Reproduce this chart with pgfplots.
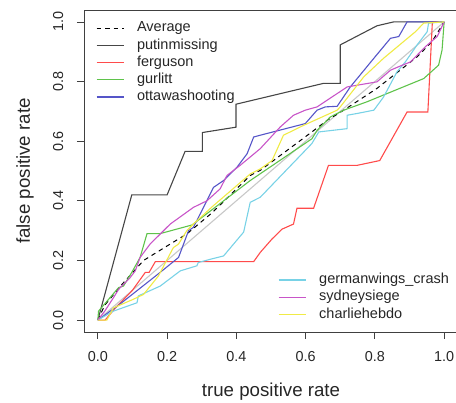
\documentclass[border=0pt]{standalone}
\usepackage{fontspec}
\setmainfont{Liberation Sans}
\usepackage{pgfplots}
\pgfplotsset{compat=1.18}

\definecolor{cputin}{RGB}{70,70,70}
\definecolor{cfergu}{RGB}{255,75,75}
\definecolor{cgurl}{RGB}{95,195,75}
\definecolor{cottawa}{RGB}{85,85,200}
\definecolor{cgerm}{RGB}{120,210,230}
\definecolor{csyd}{RGB}{200,85,200}
\definecolor{ccharlie}{RGB}{240,235,70}
\definecolor{cdiag}{RGB}{200,200,200}

\pgfplotsset{
  rocframe/.style={
    at={(0,0)}, anchor=south west,
    width=374pt, height=322pt, scale only axis,
    xmin=-0.04, xmax=1.04, ymin=-0.04, ymax=1.04,
    legend cell align=left,
  },
  leg/.style={
    draw=none, fill=none, inner sep=0pt, outer sep=0pt,
    row sep=3.75pt, column sep=13pt,
    nodes={inner sep=0pt, text height=10.5pt, text depth=3pt,
      font=\fontsize{14.5}{17}\selectfont, text=black!85},
  },
}

\begin{document}
\begin{tikzpicture}
\useasboundingbox (-84pt,-71pt) rectangle (372pt,332pt);

\begin{axis}[
  rocframe,
  axis line style={black!75, line width=0.9pt},
  xtick={0,0.2,0.4,0.6,0.8,1}, ytick={0,0.2,0.4,0.6,0.8,1},
  xtick pos=bottom, ytick pos=left,
  tick align=outside, major tick length=7pt,
  tick style={black!75, line width=0.8pt},
  /pgf/number format/.cd, fixed, fixed zerofill, precision=1, assume math mode=true,
  /pgfplots/.cd,
  ticklabel style={font=\fontsize{14.4}{17}\selectfont, text=black!85},
  xticklabel style={anchor=north, inner sep=0pt},
  xticklabel shift=12.5pt,
  yticklabel style={rotate=90, anchor=south, inner sep=0pt},
  yticklabel shift=13.5pt,
  xlabel={true positive rate},
  ylabel={false positive rate},
  label style={font=\fontsize{18.7}{22}\selectfont, text=black!85, inner sep=0pt},
  xlabel style={at={([yshift=-65pt]axis description cs:0.5,0)}, anchor=base},
  ylabel style={at={([xshift=-54pt]axis description cs:0,0.5)}, anchor=base, rotate=0},
  legend image code/.code={\draw[#1] (0pt,0pt) -- (27pt,0pt);},
  legend style={leg, at={(axis description cs:0.032,0.965)}, anchor=north west},
]
\addplot[cdiag, line width=1.1pt, forget plot] coordinates {(0,0) (1,1)};

\addplot[black, line width=1pt, dash pattern=on 4.5pt off 4pt] coordinates {
(0,0) (0.02,0.05) (0.07,0.12) (0.132,0.2) (0.209,0.255) (0.257,0.289)
(0.33,0.36) (0.44,0.485) (0.469,0.502) (0.618,0.631) (0.662,0.67)
(0.71,0.704) (0.806,0.777) (0.922,0.883) (0.965,0.934) (1,1)};

\addplot[cputin, line width=1.1pt] coordinates {
(0,0) (0.098,0.42) (0.2,0.42) (0.252,0.566) (0.302,0.566) (0.302,0.629)
(0.399,0.647) (0.399,0.724) (0.652,0.794) (0.70,0.794) (0.70,0.923)
(0.806,0.987) (0.854,1.0) (1,1)};

\addplot[cfergu, line width=1.1pt] coordinates {
(0,0) (0.021,0) (0.05,0.04) (0.1,0.1) (0.137,0.16) (0.148,0.16)
(0.166,0.196) (0.45,0.196) (0.469,0.227) (0.503,0.272) (0.532,0.305)
(0.565,0.322) (0.575,0.375) (0.623,0.375) (0.666,0.519) (0.749,0.519)
(0.814,0.535) (0.893,0.698) (0.953,0.698) (0.966,1.0) (1,1)};

\addplot[cgurl, line width=1.1pt] coordinates {
(0,0) (0.002,0.03) (0.06,0.109) (0.074,0.114) (0.098,0.16) (0.122,0.21)
(0.142,0.29) (0.18,0.29) (0.272,0.319) (0.44,0.468) (0.618,0.608)
(0.633,0.636) (0.671,0.681) (0.71,0.704) (0.777,0.732) (0.941,0.81)
(0.984,0.855) (0.994,0.906) (1,1)};

\addplot[cottawa, line width=1.1pt] coordinates {
(0,0) (0.06,0.05) (0.18,0.16) (0.233,0.21) (0.262,0.3) (0.276,0.311)
(0.334,0.445) (0.363,0.468) (0.402,0.513) (0.431,0.558) (0.45,0.614)
(0.469,0.62) (0.599,0.659) (0.633,0.704) (0.657,0.715) (0.691,0.717)
(0.729,0.782) (0.797,0.878) (0.845,0.945) (0.869,0.951) (0.888,0.99)
(0.893,1.0) (1,1)};

\legend{Average, putinmissing, ferguson, gurlitt, ottawashooting}
\end{axis}

\begin{axis}[
  rocframe, hide axis,
  legend image code/.code={\draw[#1] (0pt,0pt) -- (27pt,0pt);},
  legend style={leg, at={(axis description cs:0.519,0.1825)}, anchor=north west},
]
\addplot[cgerm, line width=1.1pt] coordinates {
(0,0) (0.045,0.03) (0.113,0.058) (0.117,0.081) (0.18,0.114) (0.238,0.165)
(0.286,0.182) (0.29,0.193) (0.325,0.204) (0.363,0.215) (0.392,0.255)
(0.421,0.295) (0.44,0.395) (0.469,0.412) (0.618,0.592) (0.638,0.631)
(0.72,0.642) (0.72,0.687) (0.749,0.693) (0.797,0.704) (0.825,0.748)
(0.864,0.833) (0.888,0.866) (0.922,0.923) (0.951,0.967) (0.955,0.996) (1,1)};

\addplot[csyd, line width=1.1pt] coordinates {
(0,0) (0.02,0.03) (0.045,0.075) (0.06,0.103) (0.093,0.142) (0.108,0.165)
(0.122,0.21) (0.151,0.255) (0.209,0.322) (0.276,0.378) (0.315,0.4)
(0.353,0.44) (0.373,0.485) (0.411,0.519) (0.469,0.575) (0.527,0.648)
(0.565,0.687) (0.599,0.704) (0.633,0.715) (0.72,0.782) (0.806,0.799)
(0.845,0.838) (0.869,0.85) (0.903,0.866) (0.946,0.917) (0.98,0.951) (1,1)};

\addplot[ccharlie, line width=1.1pt] coordinates {
(0,0) (0.026,0) (0.045,0.041) (0.103,0.07) (0.132,0.086) (0.175,0.148)
(0.218,0.243) (0.233,0.255) (0.257,0.3) (0.276,0.322) (0.33,0.38)
(0.44,0.49) (0.469,0.507) (0.503,0.535) (0.536,0.62) (0.594,0.653)
(0.691,0.704) (0.7,0.715) (0.768,0.816) (0.825,0.878) (0.888,0.939)
(0.917,0.967) (0.941,0.996) (1,1)};

\legend{germanwings\_crash, sydneysiege, charliehebdo}
\end{axis}
\end{tikzpicture}
\end{document}
